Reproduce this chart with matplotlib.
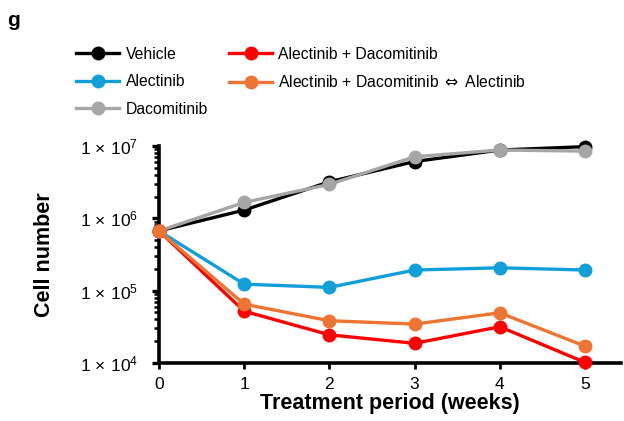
import matplotlib
matplotlib.use("Agg")
import matplotlib.pyplot as plt
from matplotlib.ticker import FixedLocator, FixedFormatter, LogLocator, NullFormatter

plt.rcParams['font.family'] = ['Liberation Sans', 'DejaVu Sans']
plt.rcParams['mathtext.fontset'] = 'custom'
plt.rcParams['mathtext.rm'] = 'Liberation Sans'
plt.rcParams['mathtext.it'] = 'Liberation Sans'
plt.rcParams['mathtext.sf'] = 'DejaVu Sans'

weeks = [0, 1, 2, 3, 4, 5]
vehicle = [6.7e5, 1.3e6, 3.2e6, 6.1e6, 8.8e6, 9.8e6]
alectinib = [6.7e5, 1.23e5, 1.11e5, 1.93e5, 2.07e5, 1.93e5]
dacomitinib = [6.7e5, 1.66e6, 2.95e6, 7.1e6, 8.8e6, 8.5e6]
alec_daco = [6.7e5, 5.2e4, 2.45e4, 1.87e4, 3.17e4, 1.02e4]
alec_daco_switch = [6.7e5, 6.5e4, 3.84e4, 3.45e4, 4.94e4, 1.71e4]

ytick_vals = [1e4, 1e5, 1e6, 1e7]
ytick_labels = [r'$1\,\times\,10^{4}$', r'$1\,\times\,10^{5}$',
                r'$1\,\times\,10^{6}$', r'$1\,\times\,10^{7}$']

series = [
    ("Vehicle", vehicle, "#000000"),
    ("Alectinib", alectinib, "#109fd8"),
    ("Dacomitinib", dacomitinib, "#a6a6a6"),
    ("Alectinib + Dacomitinib", alec_daco, "#ff0000"),
    (r"Alectinib + Dacomitinib $\mathsf{\Leftrightarrow}$ Alectinib", alec_daco_switch, "#ed7433"),
]

fig = plt.figure(figsize=(6.24, 4.21), dpi=100)
ax = fig.add_axes([0.2548, 0.1378, 0.74, 0.5154])

handles = []
for name, vals, col in series:
    h, = ax.plot(weeks, vals, color=col, lw=2.4, marker='o', markersize=9,
                 clip_on=False, label=name, zorder=3)
    handles.append(h)

ax.set_yscale('log')
ax.set_ylim(1e4, 1e7)
ax.set_xlim(0, 5.42)

ax.yaxis.set_major_locator(FixedLocator(ytick_vals))
ax.yaxis.set_major_formatter(FixedFormatter(ytick_labels))
ax.yaxis.set_minor_locator(LogLocator(base=10, subs=range(2, 10)))
ax.yaxis.set_minor_formatter(NullFormatter())
ax.set_xticks(weeks)

for s in ['top', 'right']:
    ax.spines[s].set_visible(False)
for s in ['left', 'bottom']:
    ax.spines[s].set_linewidth(2.6)

ax.tick_params(axis='y', which='major', direction='out', length=5, width=2.4, labelsize=12.5, pad=10)
ax.tick_params(axis='y', which='minor', direction='out', length=3.5, width=1.8)
ax.tick_params(axis='x', which='major', direction='out', length=4, width=2.0, labelsize=12.5, pad=6)

ax.set_ylabel("Cell number", fontsize=15.5, fontweight='bold', labelpad=18)
ax.set_xlabel("Treatment period (weeks)", fontsize=15.5, fontweight='bold', labelpad=1)

fig.text(0.012, 0.952, "g", fontsize=15, fontweight='bold', va='center')

leg = fig.legend(handles, [s[0] for s in series], ncol=2, loc='upper left',
                 bbox_to_anchor=(0.112, 0.904), frameon=False, fontsize=11.3,
                 handlelength=2.75, handletextpad=0.4, columnspacing=1.35,
                 labelspacing=0.8, borderaxespad=0)

fig.savefig("out.png", dpi=100)
